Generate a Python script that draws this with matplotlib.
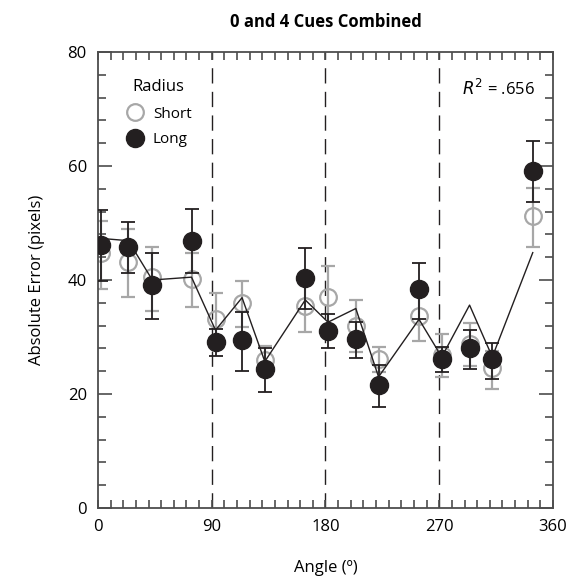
import numpy as np
import matplotlib
matplotlib.use("Agg")
import matplotlib.pyplot as plt
from matplotlib.ticker import MultipleLocator
from matplotlib.lines import Line2D

plt.rcParams['font.family'] = ['Open Sans', 'DejaVu Sans']

# angle of each target (deg)
angles = [2, 24, 43, 74, 93, 114, 132, 164, 182, 204, 222, 254, 272, 294, 312, 344]

# long radius (filled)
long_mean = [46.1, 45.8, 39.1, 46.9, 29.1, 29.5, 24.4, 40.3, 31.1, 29.7, 21.6, 38.4, 26.1, 28.0, 26.2, 59.2]
long_hi = [52.3, 50.2, 44.8, 52.4, 31.4, 34.4, 28.0, 45.6, 34.0, 32.7, 25.1, 43.0, 28.3, 31.2, 29.0, 64.4]
long_lo = [39.8, 41.3, 33.2, 41.3, 26.7, 24.0, 20.3, 34.9, 28.0, 26.4, 17.8, 33.1, 23.8, 24.4, 22.7, 53.7]

# short radius (open)
short_mean = [44.7, 43.1, 40.5, 40.1, 33.2, 36.0, 26.0, 35.4, 37.1, 31.9, 26.1, 33.6, 26.8, 28.7, 24.5, 51.2]
short_hi = [50.4, 49.0, 45.8, 44.7, 37.8, 39.9, 28.4, 39.8, 42.5, 36.5, 28.3, 38.0, 30.5, 32.4, 27.6, 56.2]
short_lo = [38.5, 37.0, 34.5, 35.3, 28.6, 31.7, 23.6, 30.8, 31.8, 27.4, 23.8, 29.3, 23.0, 25.0, 20.9, 45.8]

# model fit
model = [47.3, 46.9, 40.0, 40.5, 31.2, 36.9, 25.7, 36.5, 32.6, 35.0, 23.0, 33.1, 26.5, 35.6, 26.5, 44.8]

GRAY = '#a7a7a7'
DARK = '#231f20'

fig = plt.figure(figsize=(5.75, 5.84), dpi=100)
ax = fig.add_axes([0.1704, 0.1301, 0.7913, 0.7809])

x = np.array(angles)
sm = np.array(short_mean)
lm = np.array(long_mean)

ax.errorbar(x, sm, yerr=[sm - np.array(short_lo), np.array(short_hi) - sm],
            fmt='o', ms=12, mfc='none', mec=GRAY, mew=1.6, ecolor=GRAY,
            elinewidth=1.6, capsize=5, capthick=1.6, zorder=2)
ax.plot(x, model, color=DARK, lw=1, zorder=3)
ax.errorbar(x, lm, yerr=[lm - np.array(long_lo), np.array(long_hi) - lm],
            fmt='o', ms=13, mfc=DARK, mec=DARK, ecolor=DARK,
            elinewidth=1.3, capsize=5, capthick=1.3, zorder=4)

for xv in [90, 180, 270]:
    ax.axvline(xv, color=DARK, lw=1, dashes=(11, 6), zorder=1)

ax.set_xlim(0, 360)
ax.set_ylim(0, 80)
ax.xaxis.set_major_locator(MultipleLocator(90))
ax.xaxis.set_minor_locator(MultipleLocator(10))
ax.yaxis.set_major_locator(MultipleLocator(20))
ax.yaxis.set_minor_locator(MultipleLocator(4))
ax.tick_params(which='both', direction='in', top=True, right=True,
               color='#4d4d4d', width=1.2, labelsize=12, pad=8)
ax.tick_params(which='major', length=10)
ax.tick_params(which='minor', length=5.5)
ax.tick_params(axis='x', which='major', length=5.5)
for s in ax.spines.values():
    s.set_color('#4d4d4d')
    s.set_linewidth(1.3)

ax.set_xlabel('Angle (º)', fontsize=12, labelpad=18)
ax.set_ylabel('Absolute Error (pixels)', fontsize=12, labelpad=16)
ax.set_title('0 and 4 Cues Combined', fontsize=12, fontweight='bold', pad=18)

handles = [Line2D([], [], marker='o', ls='none', ms=12, mfc='none', mec=GRAY, mew=1.6),
           Line2D([], [], marker='o', ls='none', ms=13, mfc=DARK, mec=DARK)]
leg = ax.legend(handles, ['Short', 'Long'], title='Radius', loc='upper left',
                bbox_to_anchor=(0.03, 0.97), frameon=False, fontsize=11,
                title_fontsize=12, handletextpad=0.6, labelspacing=0.7,
                handlelength=1.2)
leg._legend_box.sep = 8

ax.text(0.96, 0.92, r'$R^2$ = .656', transform=ax.transAxes, ha='right',
        va='center', fontsize=12)

fig.savefig('out.png', dpi=100)
